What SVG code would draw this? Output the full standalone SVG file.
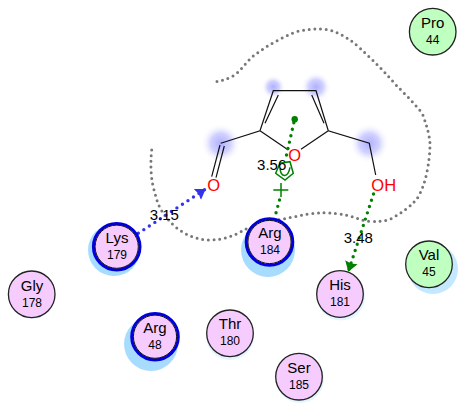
<svg xmlns="http://www.w3.org/2000/svg" width="462" height="409" viewBox="0 0 462 409">
<style>
text{font-family:"Liberation Sans",Arial,sans-serif;text-anchor:middle;fill:#000}
.n{font-size:15px}.m{font-size:12px}.d{font-size:15px}
.a{font-size:16.5px;fill:#f00}
.c{stroke:#111;stroke-width:1.2px}
.r{fill:#f6ccff;stroke:#222;stroke-width:1.3px}
.g{fill:#bfffbf;stroke:#222;stroke-width:1.3px}
.hi{fill:#a8dcff}.lo{fill:#e4f5ff}.mid{fill:#c4e8ff}
.ring{fill:#f6ccff;stroke:#0000dd;stroke-width:3px}
.in{fill:none;stroke:#111;stroke-width:1px}
.dot{fill:none;stroke-width:3.400px;stroke-linecap:round;stroke-dasharray:0 6.6}
</style>
<defs>
<radialGradient id="h"><stop offset="0" stop-color="#b0b0ff"/><stop offset=".5" stop-color="#d2d2ff"/><stop offset="1" stop-color="#ffffff" stop-opacity="0"/></radialGradient>
<marker id="ab" markerUnits="userSpaceOnUse" markerWidth="10" markerHeight="14" viewBox="0 0 10 14" refX="10" refY="7" orient="auto"><path d="M0 0.500L10 7L0 13.500L1.500 7Z" fill="#3333ee"/></marker>
<marker id="ag" markerUnits="userSpaceOnUse" markerWidth="10" markerHeight="14" viewBox="0 0 10 14" refX="10" refY="7" orient="auto"><path d="M0 0.500L10 7L0 13.500L1.500 7Z" fill="#008000"/></marker>
</defs>
<g id="outline"><path d="M151.700 150C150 165 151 182 155 193C158 207 164 217 176.700 228C187 236 199 240 210 240C224 240 236 235 245 229.300L268 222L291.700 217.300C303 215 314 212.700 323.300 212.700C332 212.700 340 214 346.700 215.300C356 217 362 221 370 221.300C378 221.500 384 221.500 390 219.300C396 216 401 213 405 210C411 205 415 202 418.300 196.700C423 188 425 181 426.700 173.300C429 162 430 152 430 143.300C429 132 426 124 422.300 113.300C414 103 405 94 396.700 85.700C388 76 380 67 371.700 59.300C364 52 357 45 350 40C344 36 338 33 331.700 30.700C326 29 320 28.700 315 29C309 29.300 303 30 296.700 31.700C290 34 284 37 278.300 40C269 45 261 50 253.300 56C247 61 242 69 235 75C228 79 221 81 213.300 82.300" fill="none" stroke="#777" stroke-width="3" stroke-linecap="round" stroke-dasharray="0 5.700"/></g>
<g id="halos">
<circle cx="220.700" cy="143.300" r="20" fill="url(#h)"/>
<circle cx="273.300" cy="87" r="12" fill="url(#h)"/>
<circle cx="316" cy="87" r="15" fill="url(#h)"/>
<circle cx="369.300" cy="143.300" r="20" fill="url(#h)"/>
</g>
<g id="ligand">
<path class="c" fill="none" d="M220.700 143.300L260 130.700L273.300 90.700H316L328.300 130.700L369.300 143.300L375.700 175M260 130.700L288.300 150M328.300 130.700L301 149.300M265 123.300L278.300 95M311.700 95L324 123.300M220 145L211.700 176.700M224.300 146L216 177.700"/>
<text class="a" x="294.700" y="160.500">O</text>
<text class="a" x="213.700" y="191">O</text>
<text class="a" x="383.700" y="190.500">OH</text>
</g>
<g id="connectors">
<path class="dot" stroke="#3333ee" marker-end="url(#ab)" d="M138.300 233.300L205.700 189"/>
<path class="dot" stroke="#008000" marker-end="url(#ag)" d="M373.500 194L348.300 271.700"/>
<path class="dot" stroke="#008000" d="M286.500 155L294 122M279.500 200L275.700 214"/>
<circle cx="294.700" cy="119.300" r="3.200" fill="#008000"/>
<path d="M290 161.700L293.300 173.300L285 180L275.700 173.300L280 163.300ZM280 168.300C281 178 288 178 290 167.300M273.300 190H288.300M281 183V197" fill="none" stroke="#008000" stroke-width="1.500"/>
<text class="d" x="164.300" y="220">3.15</text>
<text class="d" x="271.700" y="170">3.56</text>
<text class="d" x="358.300" y="243">3.48</text>
</g>
<g id="lys179"><circle class="hi" cx="114" cy="250" r="26"/><circle class="ring" cx="116.700" cy="246.700" r="23.300"/><circle class="in" cx="116.700" cy="246.700" r="21.600"/><text class="n" x="117" y="243">Lys</text><text class="m" x="117" y="259">179</text></g>
<g id="arg184"><circle class="hi" cx="268" cy="250" r="27"/><circle class="ring" cx="269.500" cy="242" r="23.300"/><circle class="in" cx="269.500" cy="242" r="21.600"/><text class="n" x="270" y="238">Arg</text><text class="m" x="270" y="254">184</text></g>
<g id="arg48"><circle class="hi" cx="151" cy="344" r="27"/><circle class="ring" cx="155" cy="336.700" r="23.300"/><circle class="in" cx="155" cy="336.700" r="21.600"/><text class="n" x="155" y="333">Arg</text><text class="m" x="155" y="349">48</text></g>
<g id="gly178"><circle class="lo" cx="31.700" cy="295.500" r="23.500"/><circle class="r" cx="31.700" cy="294.300" r="23.300"/><text class="n" x="32" y="291">Gly</text><text class="m" x="32" y="307">178</text></g>
<g id="thr180"><circle class="lo" cx="230" cy="336" r="24"/><circle class="r" cx="230" cy="333.300" r="23.300"/><text class="n" x="230" y="329">Thr</text><text class="m" x="230" y="345">180</text></g>
<g id="his181"><circle class="lo" cx="341" cy="296.500" r="24"/><circle class="r" cx="340" cy="294" r="23.300"/><text class="n" x="340" y="290">His</text><text class="m" x="340" y="306">181</text></g>
<g id="ser185"><circle class="lo" cx="300" cy="379" r="24"/><circle class="r" cx="299" cy="376.700" r="23.300"/><text class="n" x="299" y="373">Ser</text><text class="m" x="299" y="389">185</text></g>
<g id="val45"><circle class="mid" cx="433" cy="269" r="25"/><circle class="g" cx="429" cy="264.300" r="23.300"/><text class="n" x="429" y="260">Val</text><text class="m" x="429" y="276">45</text></g>
<g id="pro44"><circle class="g" cx="432.700" cy="31.700" r="23.300"/><text class="n" x="432.700" y="28">Pro</text><text class="m" x="432.700" y="44">44</text></g>
</svg>
